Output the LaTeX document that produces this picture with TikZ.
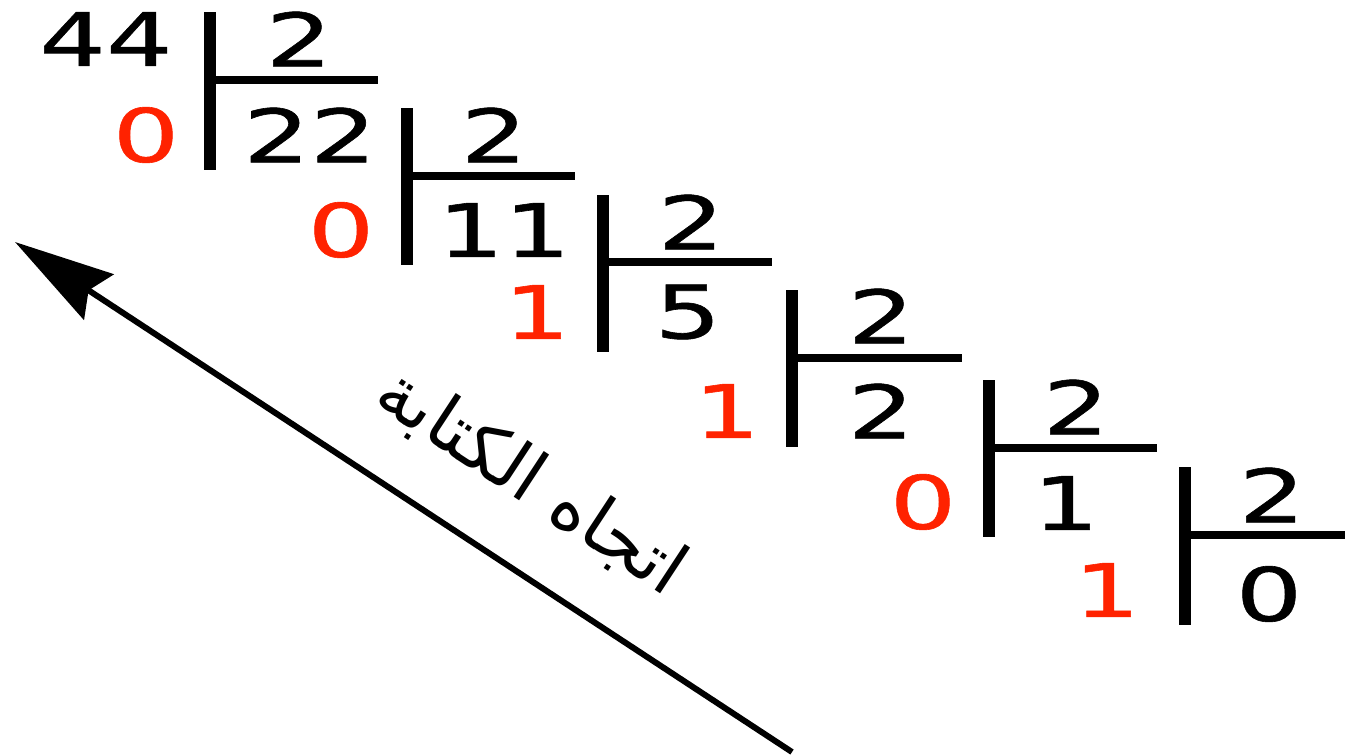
\documentclass[tikz,border=0pt]{standalone}
\usepackage{fontspec}
\usetikzlibrary{arrows.meta}
\newfontfamily\digitfont[FakeStretch=1.42, FakeBold=0.8]{DejaVu Sans}
\newfontfamily\arabicfont[Script=Arabic]{DejaVu Sans}
\TeXXeTstate=1
\definecolor{remred}{RGB}{255,34,0}

\begin{document}
\begin{tikzpicture}[
  digit/.style={font=\digitfont\fontsize{21}{25}\selectfont, inner sep=0pt},
  remdigit/.style={digit, text=remred},
  bar/.style={line width=3.2pt},
  rule/.style={line width=2.2pt},
  arr/.style={-{Stealth[length=1cm, width=0.54cm, inset=0.12cm]}, line width=1.7pt},
  dirlabel/.style={font=\arabicfont\fontsize{20.5}{24}\selectfont, inner sep=0pt}
]
\useasboundingbox (0,0) rectangle (13.45,-7.55);

% Dividend
\node[digit] (n44) at (1.06, -0.39) {44};

% Divisors
\node[digit] (d1) at (2.99, -0.39) {2};
\node[digit] (d2) at (4.94, -1.35) {2};
\node[digit] (d3) at (6.91, -2.22) {2};
\node[digit] (d4) at (8.81, -3.16) {2};
\node[digit] (d5) at (10.76, -4.07) {2};
\node[digit] (d6) at (12.72, -4.95) {2};

% Quotients
\node[digit] (q22) at (3.10, -1.35) {22};
\node[digit] (q11) at (5.04, -2.30) {11};
\node[digit] (q5) at (6.88, -3.12) {5};
\node[digit] (q2) at (8.81, -4.11) {2};
\node[digit] (q1) at (10.66, -5.03) {1};
\node[digit] (q0) at (12.69, -5.94) {0};

% Remainders
\node[remdigit] (r1) at (1.46, -1.35) {0};
\node[remdigit] (r2) at (3.41, -2.30) {0};
\node[remdigit] (r3) at (5.37, -3.12) {1};
\node[remdigit] (r4) at (7.27, -4.11) {1};
\node[remdigit] (r5) at (9.23, -5.02) {0};
\node[remdigit] (r6) at (11.07, -5.90) {1};

% Division bars
\draw[bar] (2.10, -0.12) -- (2.10, -1.70);
\draw[rule] (2.10, -0.80) -- (3.78, -0.80);
\draw[bar] (4.07, -1.08) -- (4.07, -2.65);
\draw[rule] (4.07, -1.76) -- (5.75, -1.76);
\draw[bar] (6.03, -1.95) -- (6.03, -3.52);
\draw[rule] (6.03, -2.62) -- (7.72, -2.62);
\draw[bar] (7.92, -2.90) -- (7.92, -4.47);
\draw[rule] (7.92, -3.58) -- (9.62, -3.58);
\draw[bar] (9.89, -3.80) -- (9.89, -5.37);
\draw[rule] (9.89, -4.48) -- (11.57, -4.48);
\draw[bar] (11.85, -4.67) -- (11.85, -6.25);
\draw[rule] (11.85, -5.35) -- (13.45, -5.35);

% Reading direction
\coordinate (tail) at (7.92, -7.52);
\coordinate (head) at (0.15, -2.42);
\draw[arr] (tail) -- (head);
\node[dirlabel, rotate=-33.3] (dir) at (5.31, -4.82) {\beginR اتجاه الكتابة\endR};

\end{tikzpicture}
\end{document}
